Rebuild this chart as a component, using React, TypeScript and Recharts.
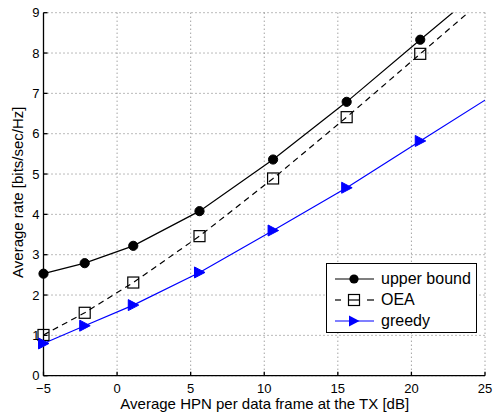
import React from 'react'
import {
  LineChart,
  Line,
  XAxis,
  YAxis,
  CartesianGrid,
} from 'recharts'

// sampled HPN points (dB); the last one lies past the right edge of the axes
const hpnDb = [-5, -2.2, 1.1, 5.6, 10.6, 15.6, 20.6, 25.6]
const upperBound = [2.53, 2.79, 3.22, 4.08, 5.36, 6.79, 8.33, 9.85]
const oea = [1.01, 1.56, 2.31, 3.46, 4.89, 6.41, 7.98, 9.55]
const greedy = [0.8, 1.24, 1.75, 2.56, 3.6, 4.66, 5.82, 6.97]

const xTicks = [-5, 0, 5, 10, 15, 20, 25]
const yTicks = [0, 1, 2, 3, 4, 5, 6, 7, 8, 9]
const xDomain: [number, number] = [-5, 25]
const yDomain: [number, number] = [0, 9]

const seriesNames = ['upper bound', 'OEA', 'greedy']

const FONT = '"Liberation Sans", Arial, Helvetica, sans-serif'
const BLUE = '#0000ff'

const toPoints = (ys: number[]) => hpnDb.map((x, i) => ({ x, y: ys[i] }))
// markers only where the sample is inside the x range
const inRange = (pts: { x: number; y: number }[]) =>
  pts.filter((p) => p.x >= xDomain[0] && p.x <= xDomain[1])

const upperPts = toPoints(upperBound)
const oeaPts = toPoints(oea)
const greedyPts = toPoints(greedy)

const fmtX = (v: number) => (v < 0 ? '\u2212' + Math.abs(v) : String(v))

function CircleDot(props: any) {
  const { cx, cy, index } = props
  if (cx == null || cy == null) return <g key={index} />
  return <circle key={index} cx={cx} cy={cy} r={4.6} fill="#000" stroke="#000" />
}

function SquareDot(props: any) {
  const { cx, cy, index } = props
  if (cx == null || cy == null) return <g key={index} />
  const s = 11
  return (
    <rect
      key={index}
      x={cx - s / 2}
      y={cy - s / 2}
      width={s}
      height={s}
      fill="none"
      stroke="#000"
      strokeWidth={1.2}
    />
  )
}

function TriangleDot(props: any) {
  const { cx, cy, index } = props
  if (cx == null || cy == null) return <g key={index} />
  return (
    <polygon
      key={index}
      points={`${cx - 5},${cy - 5.5} ${cx + 5.5},${cy} ${cx - 5},${cy + 5.5}`}
      fill={BLUE}
      stroke={BLUE}
    />
  )
}

function LegendRow({ kind, label }: { kind: number; label: string }) {
  return (
    <div style={{ height: 21, display: 'flex', alignItems: 'center' }}>
      <svg width={46} height={14} style={{ marginLeft: 7, marginRight: 1 }}>
        {kind === 0 && (
          <g>
            <line x1={1} y1={7} x2={40} y2={7} stroke="#000" strokeWidth={1.2} />
            <circle cx={20} cy={7} r={4.6} fill="#000" />
          </g>
        )}
        {kind === 1 && (
          <g>
            <line x1={1} y1={7} x2={7} y2={7} stroke="#000" strokeWidth={1.2} />
            <line x1={14} y1={7} x2={26} y2={7} stroke="#000" strokeWidth={1.2} />
            <line x1={33} y1={7} x2={40} y2={7} stroke="#000" strokeWidth={1.2} />
            <rect x={14.5} y={1.5} width={11} height={11} fill="none" stroke="#000" strokeWidth={1.2} />
          </g>
        )}
        {kind === 2 && (
          <g>
            <line x1={1} y1={7} x2={40} y2={7} stroke={BLUE} strokeWidth={1.2} />
            <polygon points="15,1.5 25.5,7 15,12.5" fill={BLUE} />
          </g>
        )}
      </svg>
      <span style={{ fontFamily: FONT, fontSize: 16, color: '#000', lineHeight: '16px' }}>
        {label}
      </span>
    </div>
  )
}

export default function App() {
  const tickStyle = { fontSize: 13, fill: '#000', fontFamily: FONT }

  return (
    <div style={{ position: 'absolute', left: 0, top: 0, width: 493, height: 412, background: '#fff' }}>
      <LineChart
        width={493}
        height={412}
        margin={{ top: 12.7, right: 8, bottom: 0, left: 0 }}
        style={{ fontFamily: FONT }}
      >
        <CartesianGrid stroke="#555" strokeDasharray="1 3" strokeWidth={0.8} />

        {/* axes the lines use: clip anything outside the box */}
        <XAxis xAxisId="c" type="number" dataKey="x" domain={xDomain} allowDataOverflow hide />
        <YAxis yAxisId="c" type="number" domain={yDomain} allowDataOverflow hide />

        <XAxis
          type="number"
          dataKey="x"
          domain={xDomain}
          ticks={xTicks}
          tickFormatter={fmtX}
          height={36.3}
          stroke="#000"
          strokeWidth={1.3}
          tickSize={-4}
          tickMargin={11.6}
          tick={tickStyle}
          label={{
            content: (p: any) => {
              const vb = p.viewBox || { x: 43.5, width: 441.5 }
              return (
                <text
                  x={vb.x + vb.width / 2 + 0.5}
                  y={409}
                  textAnchor="middle"
                  fontSize={15}
                  fontFamily={FONT}
                  fill="#000"
                >
                  Average HPN per data frame at the TX [dB]
                </text>
              )
            },
          }}
        />
        <XAxis
          xAxisId="top"
          orientation="top"
          type="number"
          domain={xDomain}
          ticks={xTicks}
          height={0}
          stroke="#000"
          tickSize={-4}
          tick={false}
        />
        <YAxis
          type="number"
          domain={yDomain}
          ticks={yTicks}
          width={43.5}
          stroke="#000"
          strokeWidth={1.3}
          tickSize={-4}
          tickMargin={8}
          tick={tickStyle}
          label={{
            content: (p: any) => {
              const vb = p.viewBox || { y: 12.7, height: 363 }
              const cy = vb.y + vb.height / 2 - 2
              return (
                <text
                  x={23.5}
                  y={cy}
                  transform={`rotate(-90 23.5 ${cy})`}
                  textAnchor="middle"
                  fontSize={15}
                  fontFamily={FONT}
                  fill="#000"
                >
                  Average rate [bits/sec/Hz]
                </text>
              )
            },
          }}
        />
        <YAxis
          yAxisId="right"
          orientation="right"
          type="number"
          domain={yDomain}
          ticks={yTicks}
          width={0}
          stroke="#000"
          tickSize={-4}
          tick={false}
        />

        {/* lines */}
        <Line
          xAxisId="c"
          yAxisId="c"
          data={upperPts}
          dataKey="y"
          stroke="#000"
          strokeWidth={1.2}
          dot={false}
          activeDot={false}
          isAnimationActive={false}
        />
        <Line
          xAxisId="c"
          yAxisId="c"
          data={oeaPts}
          dataKey="y"
          stroke="#000"
          strokeWidth={1.2}
          strokeDasharray="6 4.5"
          dot={false}
          activeDot={false}
          isAnimationActive={false}
        />
        <Line
          xAxisId="c"
          yAxisId="c"
          data={greedyPts}
          dataKey="y"
          stroke={BLUE}
          strokeWidth={1.2}
          dot={false}
          activeDot={false}
          isAnimationActive={false}
        />

        {/* markers */}
        <Line
          data={inRange(upperPts)}
          dataKey="y"
          stroke="none"
          dot={<CircleDot />}
          activeDot={false}
          isAnimationActive={false}
        />
        <Line
          data={inRange(oeaPts)}
          dataKey="y"
          stroke="none"
          dot={<SquareDot />}
          activeDot={false}
          isAnimationActive={false}
        />
        <Line
          data={inRange(greedyPts)}
          dataKey="y"
          stroke="none"
          dot={<TriangleDot />}
          activeDot={false}
          isAnimationActive={false}
        />
      </LineChart>

      <div
        style={{
          position: 'absolute',
          left: 326,
          top: 263,
          width: 151,
          height: 70,
          boxSizing: 'border-box',
          border: '1px solid #000',
          background: '#fff',
          paddingTop: 4,
        }}
      >
        {seriesNames.map((name, i) => (
          <LegendRow key={name} kind={i} label={name} />
        ))}
      </div>
    </div>
  )
}
